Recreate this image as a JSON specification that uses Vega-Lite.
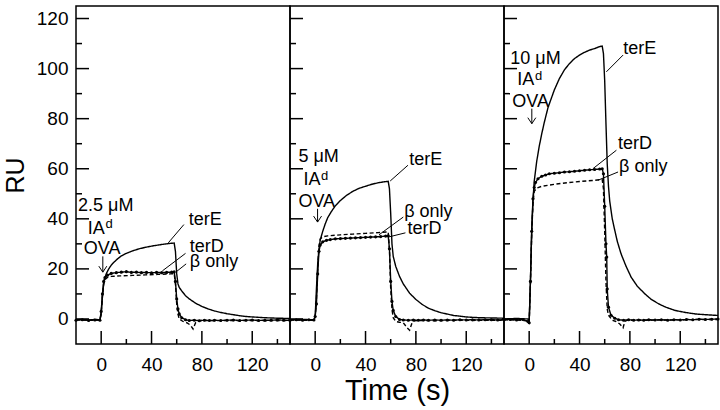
{
  "$schema": "https://vega.github.io/schema/vega-lite/v6.json",
  "autosize": {"type": "pad"},
  "padding": {"left": 2, "top": 5, "right": 2, "bottom": 0},
  "background": "white",
  "config": {
    "view": {"stroke": "black", "strokeWidth": 1.5},
    "font": "Liberation Sans",
    "axis": {"domain": false, "ticks": false, "labelColor": "black", "labelFont": "Liberation Sans", "labelFontSize": 19, "titleFont": "Liberation Sans", "titleFontWeight": "normal", "titleColor": "black", "grid": false, "labelFlush": false, "labelOverlap": false}
  },
  "datasets": {
    "xmaj": [{"v": 0}, {"v": 40}, {"v": 80}, {"v": 120}],
    "xmin": [{"v": 20}, {"v": 60}, {"v": 100}, {"v": 140}],
    "ymaj": [{"v": 0}, {"v": 20}, {"v": 40}, {"v": 60}, {"v": 80}, {"v": 100}, {"v": 120}],
    "ymin": [{"v": 10}, {"v": 30}, {"v": 50}, {"v": 70}, {"v": 90}, {"v": 110}],
    "curves": [
      {"p":"a","s":"terE","t":-20,"ru":-0.3},{"p":"a","s":"terE","t":-15,"ru":-0.2},{"p":"a","s":"terE","t":-10,"ru":-0.4},{"p":"a","s":"terE","t":-5,"ru":-0.2},{"p":"a","s":"terE","t":-1,"ru":-0.3},{"p":"a","s":"terE","t":0,"ru":2},{"p":"a","s":"terE","t":1,"ru":9},{"p":"a","s":"terE","t":2,"ru":14},{"p":"a","s":"terE","t":3,"ru":16.5},{"p":"a","s":"terE","t":4,"ru":18},{"p":"a","s":"terE","t":6,"ru":20},{"p":"a","s":"terE","t":8,"ru":21.5},{"p":"a","s":"terE","t":10,"ru":22.6},{"p":"a","s":"terE","t":13,"ru":24},{"p":"a","s":"terE","t":16,"ru":25.2},{"p":"a","s":"terE","t":20,"ru":26.2},{"p":"a","s":"terE","t":25,"ru":27.2},{"p":"a","s":"terE","t":30,"ru":28},{"p":"a","s":"terE","t":35,"ru":28.6},{"p":"a","s":"terE","t":40,"ru":29.1},{"p":"a","s":"terE","t":45,"ru":29.5},{"p":"a","s":"terE","t":50,"ru":29.9},{"p":"a","s":"terE","t":55,"ru":30.2},{"p":"a","s":"terE","t":58,"ru":30.3},{"p":"a","s":"terE","t":59,"ru":27},{"p":"a","s":"terE","t":60,"ru":18},{"p":"a","s":"terE","t":61,"ru":14},{"p":"a","s":"terE","t":62,"ru":12.6},{"p":"a","s":"terE","t":64,"ru":11.2},{"p":"a","s":"terE","t":67,"ru":9.3},{"p":"a","s":"terE","t":70,"ru":8},{"p":"a","s":"terE","t":75,"ru":6.3},{"p":"a","s":"terE","t":80,"ru":5},{"p":"a","s":"terE","t":85,"ru":4},{"p":"a","s":"terE","t":90,"ru":3.2},{"p":"a","s":"terE","t":95,"ru":2.6},{"p":"a","s":"terE","t":100,"ru":2.1},{"p":"a","s":"terE","t":105,"ru":1.7},{"p":"a","s":"terE","t":110,"ru":1.3},{"p":"a","s":"terE","t":115,"ru":1},{"p":"a","s":"terE","t":120,"ru":0.8},{"p":"a","s":"terE","t":130,"ru":0.5},{"p":"a","s":"terE","t":140,"ru":0.3},{"p":"a","s":"terE","t":150,"ru":0.2},
      {"p":"a","s":"terD","t":-20,"ru":-0.5},{"p":"a","s":"terD","t":-15,"ru":-0.3},{"p":"a","s":"terD","t":-10,"ru":-0.6},{"p":"a","s":"terD","t":-5,"ru":-0.4},{"p":"a","s":"terD","t":-1,"ru":-0.5},{"p":"a","s":"terD","t":0,"ru":3},{"p":"a","s":"terD","t":1,"ru":10},{"p":"a","s":"terD","t":2,"ru":15},{"p":"a","s":"terD","t":3,"ru":16.5},{"p":"a","s":"terD","t":5,"ru":17.5},{"p":"a","s":"terD","t":8,"ru":18.2},{"p":"a","s":"terD","t":12,"ru":18.5},{"p":"a","s":"terD","t":16,"ru":18.7},{"p":"a","s":"terD","t":20,"ru":18.9},{"p":"a","s":"terD","t":24,"ru":18.6},{"p":"a","s":"terD","t":28,"ru":18.7},{"p":"a","s":"terD","t":32,"ru":18.5},{"p":"a","s":"terD","t":36,"ru":18.6},{"p":"a","s":"terD","t":40,"ru":18.4},{"p":"a","s":"terD","t":44,"ru":18.6},{"p":"a","s":"terD","t":48,"ru":18.5},{"p":"a","s":"terD","t":52,"ru":18.6},{"p":"a","s":"terD","t":56,"ru":18.7},{"p":"a","s":"terD","t":58,"ru":18.8},{"p":"a","s":"terD","t":59,"ru":15},{"p":"a","s":"terD","t":60,"ru":8},{"p":"a","s":"terD","t":61,"ru":4},{"p":"a","s":"terD","t":62,"ru":2},{"p":"a","s":"terD","t":64,"ru":0.5},{"p":"a","s":"terD","t":67,"ru":-0.3},{"p":"a","s":"terD","t":70,"ru":-0.6},{"p":"a","s":"terD","t":74,"ru":-0.5},{"p":"a","s":"terD","t":78,"ru":-0.7},{"p":"a","s":"terD","t":82,"ru":-0.5},{"p":"a","s":"terD","t":86,"ru":-0.6},{"p":"a","s":"terD","t":90,"ru":-0.5},{"p":"a","s":"terD","t":95,"ru":-0.6},{"p":"a","s":"terD","t":100,"ru":-0.5},{"p":"a","s":"terD","t":105,"ru":-0.4},{"p":"a","s":"terD","t":110,"ru":-0.6},{"p":"a","s":"terD","t":115,"ru":-0.5},{"p":"a","s":"terD","t":120,"ru":-0.4},{"p":"a","s":"terD","t":125,"ru":-0.6},{"p":"a","s":"terD","t":130,"ru":-0.5},{"p":"a","s":"terD","t":135,"ru":-0.5},{"p":"a","s":"terD","t":140,"ru":-0.4},{"p":"a","s":"terD","t":145,"ru":-0.5},{"p":"a","s":"terD","t":150,"ru":-0.5},
      {"p":"a","s":"β only","t":-20,"ru":-0.3},{"p":"a","s":"β only","t":-10,"ru":-0.5},{"p":"a","s":"β only","t":-1,"ru":-0.4},{"p":"a","s":"β only","t":0,"ru":2},{"p":"a","s":"β only","t":1,"ru":9},{"p":"a","s":"β only","t":2,"ru":14},{"p":"a","s":"β only","t":3,"ru":15.8},{"p":"a","s":"β only","t":5,"ru":16.6},{"p":"a","s":"β only","t":8,"ru":17},{"p":"a","s":"β only","t":15,"ru":17.2},{"p":"a","s":"β only","t":25,"ru":17.4},{"p":"a","s":"β only","t":35,"ru":17.6},{"p":"a","s":"β only","t":45,"ru":17.8},{"p":"a","s":"β only","t":55,"ru":18},{"p":"a","s":"β only","t":58,"ru":18.1},{"p":"a","s":"β only","t":59,"ru":14},{"p":"a","s":"β only","t":60,"ru":6},{"p":"a","s":"β only","t":61,"ru":2},{"p":"a","s":"β only","t":62,"ru":0},{"p":"a","s":"β only","t":65,"ru":-1},{"p":"a","s":"β only","t":68,"ru":-1.5},{"p":"a","s":"β only","t":71,"ru":-2.5},{"p":"a","s":"β only","t":73,"ru":-4},{"p":"a","s":"β only","t":75,"ru":-1.5},{"p":"a","s":"β only","t":77,"ru":-0.6},{"p":"a","s":"β only","t":80,"ru":-0.6},{"p":"a","s":"β only","t":90,"ru":-0.7},{"p":"a","s":"β only","t":100,"ru":-0.6},{"p":"a","s":"β only","t":110,"ru":-0.7},{"p":"a","s":"β only","t":120,"ru":-0.6},{"p":"a","s":"β only","t":130,"ru":-0.7},{"p":"a","s":"β only","t":140,"ru":-0.6},{"p":"a","s":"β only","t":150,"ru":-0.6},

      {"p":"b","s":"terE","t":-20,"ru":-0.3},{"p":"b","s":"terE","t":-10,"ru":-0.2},{"p":"b","s":"terE","t":-1,"ru":-0.3},{"p":"b","s":"terE","t":0,"ru":1},{"p":"b","s":"terE","t":1,"ru":12},{"p":"b","s":"terE","t":2,"ru":22},{"p":"b","s":"terE","t":3,"ru":28},{"p":"b","s":"terE","t":4,"ru":31.5},{"p":"b","s":"terE","t":6,"ru":35},{"p":"b","s":"terE","t":8,"ru":38},{"p":"b","s":"terE","t":10,"ru":40.5},{"p":"b","s":"terE","t":13,"ru":43},{"p":"b","s":"terE","t":16,"ru":45.2},{"p":"b","s":"terE","t":20,"ru":47.3},{"p":"b","s":"terE","t":25,"ru":49.4},{"p":"b","s":"terE","t":30,"ru":51},{"p":"b","s":"terE","t":35,"ru":52.2},{"p":"b","s":"terE","t":40,"ru":53},{"p":"b","s":"terE","t":45,"ru":53.8},{"p":"b","s":"terE","t":50,"ru":54.4},{"p":"b","s":"terE","t":55,"ru":54.8},{"p":"b","s":"terE","t":58,"ru":55},{"p":"b","s":"terE","t":59,"ru":52},{"p":"b","s":"terE","t":60,"ru":42},{"p":"b","s":"terE","t":61,"ru":30},{"p":"b","s":"terE","t":62,"ru":25},{"p":"b","s":"terE","t":64,"ru":21},{"p":"b","s":"terE","t":67,"ru":17},{"p":"b","s":"terE","t":70,"ru":14},{"p":"b","s":"terE","t":75,"ru":10.3},{"p":"b","s":"terE","t":80,"ru":7.8},{"p":"b","s":"terE","t":85,"ru":5.8},{"p":"b","s":"terE","t":90,"ru":4.3},{"p":"b","s":"terE","t":95,"ru":3.3},{"p":"b","s":"terE","t":100,"ru":2.5},{"p":"b","s":"terE","t":110,"ru":1.4},{"p":"b","s":"terE","t":120,"ru":0.8},{"p":"b","s":"terE","t":130,"ru":0.5},{"p":"b","s":"terE","t":140,"ru":0.4},{"p":"b","s":"terE","t":150,"ru":0.3},
      {"p":"b","s":"terD","t":-20,"ru":-0.4},{"p":"b","s":"terD","t":-15,"ru":-0.3},{"p":"b","s":"terD","t":-10,"ru":-0.5},{"p":"b","s":"terD","t":-5,"ru":-0.3},{"p":"b","s":"terD","t":-1,"ru":-0.4},{"p":"b","s":"terD","t":0,"ru":1},{"p":"b","s":"terD","t":1,"ru":6},{"p":"b","s":"terD","t":2,"ru":18},{"p":"b","s":"terD","t":3,"ru":27},{"p":"b","s":"terD","t":4,"ru":29.5},{"p":"b","s":"terD","t":6,"ru":30.8},{"p":"b","s":"terD","t":9,"ru":31.4},{"p":"b","s":"terD","t":12,"ru":31.7},{"p":"b","s":"terD","t":16,"ru":32},{"p":"b","s":"terD","t":20,"ru":32.1},{"p":"b","s":"terD","t":24,"ru":32.2},{"p":"b","s":"terD","t":28,"ru":32.3},{"p":"b","s":"terD","t":32,"ru":32.4},{"p":"b","s":"terD","t":36,"ru":32.5},{"p":"b","s":"terD","t":40,"ru":32.6},{"p":"b","s":"terD","t":44,"ru":32.7},{"p":"b","s":"terD","t":48,"ru":32.8},{"p":"b","s":"terD","t":52,"ru":32.9},{"p":"b","s":"terD","t":56,"ru":33.1},{"p":"b","s":"terD","t":58,"ru":33.2},{"p":"b","s":"terD","t":59,"ru":28},{"p":"b","s":"terD","t":60,"ru":15},{"p":"b","s":"terD","t":61,"ru":7},{"p":"b","s":"terD","t":62,"ru":3.4},{"p":"b","s":"terD","t":64,"ru":1},{"p":"b","s":"terD","t":67,"ru":-0.2},{"p":"b","s":"terD","t":70,"ru":-0.4},{"p":"b","s":"terD","t":74,"ru":-0.5},{"p":"b","s":"terD","t":78,"ru":-0.4},{"p":"b","s":"terD","t":82,"ru":-0.5},{"p":"b","s":"terD","t":86,"ru":-0.4},{"p":"b","s":"terD","t":90,"ru":-0.5},{"p":"b","s":"terD","t":95,"ru":-0.4},{"p":"b","s":"terD","t":100,"ru":-0.5},{"p":"b","s":"terD","t":105,"ru":-0.4},{"p":"b","s":"terD","t":110,"ru":-0.5},{"p":"b","s":"terD","t":115,"ru":-0.3},{"p":"b","s":"terD","t":120,"ru":-0.4},{"p":"b","s":"terD","t":125,"ru":-0.3},{"p":"b","s":"terD","t":130,"ru":-0.4},{"p":"b","s":"terD","t":135,"ru":-0.3},{"p":"b","s":"terD","t":140,"ru":-0.3},{"p":"b","s":"terD","t":145,"ru":-0.4},{"p":"b","s":"terD","t":150,"ru":-0.3},
      {"p":"b","s":"β only","t":-20,"ru":-0.4},{"p":"b","s":"β only","t":-10,"ru":-0.5},{"p":"b","s":"β only","t":-1,"ru":-0.5},{"p":"b","s":"β only","t":0,"ru":1},{"p":"b","s":"β only","t":1,"ru":8},{"p":"b","s":"β only","t":2,"ru":20},{"p":"b","s":"β only","t":3,"ru":29},{"p":"b","s":"β only","t":4,"ru":32},{"p":"b","s":"β only","t":6,"ru":32.8},{"p":"b","s":"β only","t":10,"ru":33.2},{"p":"b","s":"β only","t":20,"ru":33.6},{"p":"b","s":"β only","t":30,"ru":33.9},{"p":"b","s":"β only","t":40,"ru":34.2},{"p":"b","s":"β only","t":50,"ru":34.5},{"p":"b","s":"β only","t":58,"ru":34.8},{"p":"b","s":"β only","t":59,"ru":28},{"p":"b","s":"β only","t":60,"ru":12},{"p":"b","s":"β only","t":61,"ru":4},{"p":"b","s":"β only","t":62,"ru":0.5},{"p":"b","s":"β only","t":64,"ru":-1},{"p":"b","s":"β only","t":67,"ru":-1.3},{"p":"b","s":"β only","t":70,"ru":-1.5},{"p":"b","s":"β only","t":73,"ru":-3.5},{"p":"b","s":"β only","t":75,"ru":-4.5},{"p":"b","s":"β only","t":77,"ru":-1.5},{"p":"b","s":"β only","t":79,"ru":-0.7},{"p":"b","s":"β only","t":85,"ru":-0.6},{"p":"b","s":"β only","t":95,"ru":-0.7},{"p":"b","s":"β only","t":105,"ru":-0.6},{"p":"b","s":"β only","t":115,"ru":-0.5},{"p":"b","s":"β only","t":125,"ru":-0.6},{"p":"b","s":"β only","t":135,"ru":-0.5},{"p":"b","s":"β only","t":150,"ru":-0.5},

      {"p":"c","s":"terE","t":-20,"ru":0},{"p":"c","s":"terE","t":-10,"ru":0.2},{"p":"c","s":"terE","t":-1,"ru":0},{"p":"c","s":"terE","t":0,"ru":-1},{"p":"c","s":"terE","t":1,"ru":15},{"p":"c","s":"terE","t":2,"ru":35},{"p":"c","s":"terE","t":3,"ru":47},{"p":"c","s":"terE","t":4,"ru":55},{"p":"c","s":"terE","t":6,"ru":63},{"p":"c","s":"terE","t":8,"ru":69},{"p":"c","s":"terE","t":10,"ru":74},{"p":"c","s":"terE","t":12,"ru":78.5},{"p":"c","s":"terE","t":15,"ru":84.5},{"p":"c","s":"terE","t":20,"ru":91.5},{"p":"c","s":"terE","t":24,"ru":96},{"p":"c","s":"terE","t":28,"ru":99.5},{"p":"c","s":"terE","t":32,"ru":102},{"p":"c","s":"terE","t":36,"ru":104},{"p":"c","s":"terE","t":40,"ru":105.4},{"p":"c","s":"terE","t":44,"ru":106.5},{"p":"c","s":"terE","t":48,"ru":107.4},{"p":"c","s":"terE","t":52,"ru":108},{"p":"c","s":"terE","t":56,"ru":108.8},{"p":"c","s":"terE","t":58,"ru":109},{"p":"c","s":"terE","t":59,"ru":106},{"p":"c","s":"terE","t":60,"ru":95},{"p":"c","s":"terE","t":61,"ru":78},{"p":"c","s":"terE","t":62,"ru":62},{"p":"c","s":"terE","t":63,"ru":53},{"p":"c","s":"terE","t":64,"ru":47},{"p":"c","s":"terE","t":66,"ru":40},{"p":"c","s":"terE","t":68,"ru":35.4},{"p":"c","s":"terE","t":70,"ru":31},{"p":"c","s":"terE","t":73,"ru":26},{"p":"c","s":"terE","t":77,"ru":21},{"p":"c","s":"terE","t":81,"ru":16.7},{"p":"c","s":"terE","t":86,"ru":13},{"p":"c","s":"terE","t":92,"ru":10},{"p":"c","s":"terE","t":97,"ru":7.8},{"p":"c","s":"terE","t":103,"ru":6},{"p":"c","s":"terE","t":109,"ru":4.6},{"p":"c","s":"terE","t":116,"ru":3.4},{"p":"c","s":"terE","t":124,"ru":2.6},{"p":"c","s":"terE","t":132,"ru":2},{"p":"c","s":"terE","t":140,"ru":1.7},{"p":"c","s":"terE","t":150,"ru":1.4},
      {"p":"c","s":"terD","t":-20,"ru":-0.3},{"p":"c","s":"terD","t":-15,"ru":-0.2},{"p":"c","s":"terD","t":-10,"ru":-0.4},{"p":"c","s":"terD","t":-5,"ru":-0.2},{"p":"c","s":"terD","t":-1,"ru":-1},{"p":"c","s":"terD","t":0,"ru":-1.5},{"p":"c","s":"terD","t":1,"ru":15},{"p":"c","s":"terD","t":2,"ru":35},{"p":"c","s":"terD","t":3,"ru":48},{"p":"c","s":"terD","t":4,"ru":52.5},{"p":"c","s":"terD","t":5,"ru":54.5},{"p":"c","s":"terD","t":7,"ru":56},{"p":"c","s":"terD","t":10,"ru":57},{"p":"c","s":"terD","t":13,"ru":57.5},{"p":"c","s":"terD","t":16,"ru":58},{"p":"c","s":"terD","t":20,"ru":58.2},{"p":"c","s":"terD","t":24,"ru":58.4},{"p":"c","s":"terD","t":28,"ru":58.7},{"p":"c","s":"terD","t":32,"ru":58.8},{"p":"c","s":"terD","t":36,"ru":59},{"p":"c","s":"terD","t":40,"ru":59.2},{"p":"c","s":"terD","t":44,"ru":59.4},{"p":"c","s":"terD","t":48,"ru":59.6},{"p":"c","s":"terD","t":52,"ru":59.7},{"p":"c","s":"terD","t":56,"ru":59.9},{"p":"c","s":"terD","t":58,"ru":60},{"p":"c","s":"terD","t":59,"ru":58},{"p":"c","s":"terD","t":60,"ru":45},{"p":"c","s":"terD","t":61,"ru":30},{"p":"c","s":"terD","t":61.6,"ru":24.7},{"p":"c","s":"terD","t":62,"ru":12},{"p":"c","s":"terD","t":63,"ru":4.7},{"p":"c","s":"terD","t":65,"ru":1.5},{"p":"c","s":"terD","t":68,"ru":0.3},{"p":"c","s":"terD","t":71,"ru":-0.3},{"p":"c","s":"terD","t":75,"ru":-0.5},{"p":"c","s":"terD","t":79,"ru":-0.3},{"p":"c","s":"terD","t":83,"ru":-0.5},{"p":"c","s":"terD","t":87,"ru":-0.4},{"p":"c","s":"terD","t":91,"ru":-0.5},{"p":"c","s":"terD","t":95,"ru":-0.3},{"p":"c","s":"terD","t":100,"ru":-0.4},{"p":"c","s":"terD","t":105,"ru":-0.3},{"p":"c","s":"terD","t":110,"ru":-0.5},{"p":"c","s":"terD","t":115,"ru":-0.3},{"p":"c","s":"terD","t":120,"ru":-0.4},{"p":"c","s":"terD","t":125,"ru":-0.2},{"p":"c","s":"terD","t":130,"ru":-0.3},{"p":"c","s":"terD","t":135,"ru":-0.1},{"p":"c","s":"terD","t":140,"ru":-0.2},{"p":"c","s":"terD","t":145,"ru":-0.1},{"p":"c","s":"terD","t":150,"ru":0},
      {"p":"c","s":"β only","t":-20,"ru":-0.3},{"p":"c","s":"β only","t":-10,"ru":-0.4},{"p":"c","s":"β only","t":-1,"ru":-0.8},{"p":"c","s":"β only","t":0,"ru":-1.5},{"p":"c","s":"β only","t":1,"ru":14},{"p":"c","s":"β only","t":2,"ru":34},{"p":"c","s":"β only","t":3,"ru":46},{"p":"c","s":"β only","t":4,"ru":51},{"p":"c","s":"β only","t":6,"ru":52.3},{"p":"c","s":"β only","t":10,"ru":53},{"p":"c","s":"β only","t":20,"ru":53.8},{"p":"c","s":"β only","t":30,"ru":54.4},{"p":"c","s":"β only","t":40,"ru":54.9},{"p":"c","s":"β only","t":50,"ru":55.3},{"p":"c","s":"β only","t":58,"ru":55.7},{"p":"c","s":"β only","t":59,"ru":52},{"p":"c","s":"β only","t":60,"ru":35},{"p":"c","s":"β only","t":61,"ru":15},{"p":"c","s":"β only","t":62,"ru":4},{"p":"c","s":"β only","t":63,"ru":1.5},{"p":"c","s":"β only","t":66,"ru":-0.5},{"p":"c","s":"β only","t":69,"ru":-1},{"p":"c","s":"β only","t":72,"ru":-2},{"p":"c","s":"β only","t":74.6,"ru":-3.5},{"p":"c","s":"β only","t":76,"ru":-1},{"p":"c","s":"β only","t":78,"ru":-0.5},{"p":"c","s":"β only","t":85,"ru":-0.5},{"p":"c","s":"β only","t":95,"ru":-0.5},{"p":"c","s":"β only","t":105,"ru":-0.4},{"p":"c","s":"β only","t":115,"ru":-0.4},{"p":"c","s":"β only","t":125,"ru":-0.3},{"p":"c","s":"β only","t":135,"ru":-0.2},{"p":"c","s":"β only","t":150,"ru":-0.2}
    ],
    "notes": [
      {"p":"a","label":"2.5 μM","t":-18.4,"ru":43},{"p":"a","label":"IA","t":-10.6,"ru":34},{"p":"a","label":"OVA","t":-13.8,"ru":26},{"p":"a","label":"terE","t":69.6,"ru":37.4},{"p":"a","label":"terD","t":70.4,"ru":26.7},{"p":"a","label":"β only","t":70.4,"ru":20.7},
      {"p":"b","label":"5 μM","t":-13.3,"ru":62.7},{"p":"b","label":"IA","t":-9.3,"ru":53.4},{"p":"b","label":"OVA","t":-13.3,"ru":44.7},{"p":"b","label":"terE","t":74.7,"ru":61.4},{"p":"b","label":"β only","t":70.7,"ru":40.6},{"p":"b","label":"terD","t":73.4,"ru":34.1},
      {"p":"c","label":"10 μM","t":-15,"ru":102},{"p":"c","label":"IA","t":-9.4,"ru":93.4},{"p":"c","label":"OVA","t":-13.4,"ru":84.7},{"p":"c","label":"terE","t":74.7,"ru":106},{"p":"c","label":"terD","t":70.6,"ru":68},{"p":"c","label":"β only","t":71.4,"ru":58.6}
    ],
    "sups": [
      {"p":"a","label":"d","t":3.4,"ru":36.2},{"p":"b","label":"d","t":4.7,"ru":55.6},{"p":"c","label":"d","t":4.6,"ru":95.6}
    ],
    "leaders": [
      {"p":"a","t":65.7,"ru":37.7,"t2":53.3,"ru2":30.4},{"p":"a","t":67,"ru":26.2,"t2":48.6,"ru2":19.2},{"p":"a","t":67.5,"ru":22,"t2":60,"ru2":19},
      {"p":"b","t":73.7,"ru":61.4,"t2":59.6,"ru2":55.1},{"p":"b","t":70,"ru":40.7,"t2":50.7,"ru2":33.6},{"p":"b","t":71.7,"ru":34.4,"t2":58,"ru2":32.7},
      {"p":"c","t":74.6,"ru":105.4,"t2":61.3,"ru2":98.7},{"p":"c","t":69.3,"ru":67.4,"t2":50.6,"ru2":60},{"p":"c","t":70.6,"ru":58.7,"t2":54.6,"ru2":55.4}
    ],
    "arrows": [
      {"p":"a","t":1.3,"ru":25,"t2":1.3,"ru2":18.7},{"p":"b","t":1.9,"ru":44,"t2":1.9,"ru2":38.7},{"p":"c","t":2.1,"ru":84,"t2":2.1,"ru2":78}
    ]
  },
  "hconcat": [
    {
      "width": 214, "height": 338,
      "layer": [
        {"data": {"name": "curves"}, "transform": [{"filter": "datum.p === 'a'"}],
         "mark": {"type": "line", "color": "black", "strokeWidth": 1.4, "clip": true},
         "encoding": {
           "x": {"field": "t", "type": "quantitative", "scale": {"domain": [-20, 150], "nice": false, "zero": false},
                 "axis": {"orient": "bottom", "title": null, "values": [0, 40, 80, 120], "labelPadding": 11}},
           "y": {"field": "ru", "type": "quantitative", "scale": {"domain": [-10, 125], "nice": false, "zero": false},
                 "axis": {"orient": "left", "title": "RU", "titleFontSize": 25, "titlePadding": 8, "values": [0, 20, 40, 60, 80, 100, 120], "labelPadding": 8}},
           "strokeDash": {"field": "s", "type": "nominal", "scale": {"domain": ["terE", "terD", "β only"], "range": [[1, 0], [1, 0], [4, 2.5]]}, "legend": null},
           "order": {"field": "t", "type": "quantitative"}
         }},
        {"data": {"name": "curves"}, "transform": [{"filter": "datum.p === 'a' && datum.s === 'terD'"}],
         "mark": {"type": "point", "filled": true, "color": "black", "size": 10, "opacity": 1},
         "encoding": {"x": {"field": "t", "type": "quantitative"}, "y": {"field": "ru", "type": "quantitative"}}},
        {"data": {"name": "xmaj"}, "mark": {"type": "rule", "color": "black", "strokeWidth": 1.5, "yOffset": -13, "y2Offset": 0},
         "encoding": {"x": {"field": "v", "type": "quantitative"}, "y": {"datum": -10, "type": "quantitative"}, "y2": {"datum": -10}}},
        {"data": {"name": "xmin"}, "mark": {"type": "rule", "color": "black", "strokeWidth": 1.5, "yOffset": -5, "y2Offset": 0},
         "encoding": {"x": {"field": "v", "type": "quantitative"}, "y": {"datum": -10, "type": "quantitative"}, "y2": {"datum": -10}}},
        {"data": {"name": "ymaj"}, "mark": {"type": "rule", "color": "black", "strokeWidth": 1.5, "xOffset": 13, "x2Offset": 0},
         "encoding": {"y": {"field": "v", "type": "quantitative"}, "x": {"datum": -20, "type": "quantitative"}, "x2": {"datum": -20}}},
        {"data": {"name": "ymin"}, "mark": {"type": "rule", "color": "black", "strokeWidth": 1.5, "xOffset": 6, "x2Offset": 0},
         "encoding": {"y": {"field": "v", "type": "quantitative"}, "x": {"datum": -20, "type": "quantitative"}, "x2": {"datum": -20}}},
        {"data": {"name": "leaders"}, "transform": [{"filter": "datum.p === 'a'"}],
         "mark": {"type": "rule", "color": "black", "strokeWidth": 1},
         "encoding": {"x": {"field": "t", "type": "quantitative"}, "y": {"field": "ru", "type": "quantitative"}, "x2": {"field": "t2"}, "y2": {"field": "ru2"}}},
        {"data": {"name": "arrows"}, "transform": [{"filter": "datum.p === 'a'"}],
         "mark": {"type": "rule", "color": "black", "strokeWidth": 1},
         "encoding": {"x": {"field": "t", "type": "quantitative"}, "y": {"field": "ru", "type": "quantitative"}, "x2": {"field": "t2"}, "y2": {"field": "ru2"}}},
        {"data": {"name": "arrows"}, "transform": [{"filter": "datum.p === 'a'"}],
         "mark": {"type": "point", "shape": "M-1,-1.5L0,0L1,-1.5", "filled": false, "stroke": "black", "strokeWidth": 1, "size": 64, "opacity": 1},
         "encoding": {"x": {"field": "t2", "type": "quantitative"}, "y": {"field": "ru2", "type": "quantitative"}}},
        {"data": {"name": "notes"}, "transform": [{"filter": "datum.p === 'a'"}],
         "mark": {"type": "text", "align": "left", "baseline": "alphabetic", "fontSize": 18, "font": "Liberation Sans", "color": "black"},
         "encoding": {"x": {"field": "t", "type": "quantitative"}, "y": {"field": "ru", "type": "quantitative"}, "text": {"field": "label"}}},
        {"data": {"name": "sups"}, "transform": [{"filter": "datum.p === 'a'"}],
         "mark": {"type": "text", "align": "left", "baseline": "alphabetic", "fontSize": 13, "font": "Liberation Sans", "color": "black"},
         "encoding": {"x": {"field": "t", "type": "quantitative"}, "y": {"field": "ru", "type": "quantitative"}, "text": {"field": "label"}}}
      ]
    },
    {
      "width": 214, "height": 338,
      "layer": [
        {"data": {"name": "curves"}, "transform": [{"filter": "datum.p === 'b'"}],
         "mark": {"type": "line", "color": "black", "strokeWidth": 1.4, "clip": true},
         "encoding": {
           "x": {"field": "t", "type": "quantitative", "scale": {"domain": [-20, 150], "nice": false, "zero": false},
                 "axis": {"orient": "bottom", "title": "Time (s)", "titleFontSize": 29, "titlePadding": 2, "values": [0, 40, 80, 120], "labelPadding": 11}},
           "y": {"field": "ru", "type": "quantitative", "scale": {"domain": [-10, 125], "nice": false, "zero": false}, "axis": null},
           "strokeDash": {"field": "s", "type": "nominal", "scale": {"domain": ["terE", "terD", "β only"], "range": [[1, 0], [1, 0], [4, 2.5]]}, "legend": null},
           "order": {"field": "t", "type": "quantitative"}
         }},
        {"data": {"name": "curves"}, "transform": [{"filter": "datum.p === 'b' && datum.s === 'terD'"}],
         "mark": {"type": "point", "filled": true, "color": "black", "size": 10, "opacity": 1},
         "encoding": {"x": {"field": "t", "type": "quantitative"}, "y": {"field": "ru", "type": "quantitative"}}},
        {"data": {"name": "xmaj"}, "mark": {"type": "rule", "color": "black", "strokeWidth": 1.5, "yOffset": -13, "y2Offset": 0},
         "encoding": {"x": {"field": "v", "type": "quantitative"}, "y": {"datum": -10, "type": "quantitative"}, "y2": {"datum": -10}}},
        {"data": {"name": "xmin"}, "mark": {"type": "rule", "color": "black", "strokeWidth": 1.5, "yOffset": -5, "y2Offset": 0},
         "encoding": {"x": {"field": "v", "type": "quantitative"}, "y": {"datum": -10, "type": "quantitative"}, "y2": {"datum": -10}}},
        {"data": {"name": "ymaj"}, "mark": {"type": "rule", "color": "black", "strokeWidth": 1.5, "xOffset": 13, "x2Offset": 0},
         "encoding": {"y": {"field": "v", "type": "quantitative"}, "x": {"datum": -20, "type": "quantitative"}, "x2": {"datum": -20}}},
        {"data": {"name": "ymin"}, "mark": {"type": "rule", "color": "black", "strokeWidth": 1.5, "xOffset": 6, "x2Offset": 0},
         "encoding": {"y": {"field": "v", "type": "quantitative"}, "x": {"datum": -20, "type": "quantitative"}, "x2": {"datum": -20}}},
        {"data": {"name": "leaders"}, "transform": [{"filter": "datum.p === 'b'"}],
         "mark": {"type": "rule", "color": "black", "strokeWidth": 1},
         "encoding": {"x": {"field": "t", "type": "quantitative"}, "y": {"field": "ru", "type": "quantitative"}, "x2": {"field": "t2"}, "y2": {"field": "ru2"}}},
        {"data": {"name": "arrows"}, "transform": [{"filter": "datum.p === 'b'"}],
         "mark": {"type": "rule", "color": "black", "strokeWidth": 1},
         "encoding": {"x": {"field": "t", "type": "quantitative"}, "y": {"field": "ru", "type": "quantitative"}, "x2": {"field": "t2"}, "y2": {"field": "ru2"}}},
        {"data": {"name": "arrows"}, "transform": [{"filter": "datum.p === 'b'"}],
         "mark": {"type": "point", "shape": "M-1,-1.5L0,0L1,-1.5", "filled": false, "stroke": "black", "strokeWidth": 1, "size": 64, "opacity": 1},
         "encoding": {"x": {"field": "t2", "type": "quantitative"}, "y": {"field": "ru2", "type": "quantitative"}}},
        {"data": {"name": "notes"}, "transform": [{"filter": "datum.p === 'b'"}],
         "mark": {"type": "text", "align": "left", "baseline": "alphabetic", "fontSize": 18, "font": "Liberation Sans", "color": "black"},
         "encoding": {"x": {"field": "t", "type": "quantitative"}, "y": {"field": "ru", "type": "quantitative"}, "text": {"field": "label"}}},
        {"data": {"name": "sups"}, "transform": [{"filter": "datum.p === 'b'"}],
         "mark": {"type": "text", "align": "left", "baseline": "alphabetic", "fontSize": 13, "font": "Liberation Sans", "color": "black"},
         "encoding": {"x": {"field": "t", "type": "quantitative"}, "y": {"field": "ru", "type": "quantitative"}, "text": {"field": "label"}}}
      ]
    },
    {
      "width": 214, "height": 338,
      "layer": [
        {"data": {"name": "curves"}, "transform": [{"filter": "datum.p === 'c'"}],
         "mark": {"type": "line", "color": "black", "strokeWidth": 1.4, "clip": true},
         "encoding": {
           "x": {"field": "t", "type": "quantitative", "scale": {"domain": [-20, 150], "nice": false, "zero": false},
                 "axis": {"orient": "bottom", "title": null, "values": [0, 40, 80, 120], "labelPadding": 11}},
           "y": {"field": "ru", "type": "quantitative", "scale": {"domain": [-10, 125], "nice": false, "zero": false}, "axis": null},
           "strokeDash": {"field": "s", "type": "nominal", "scale": {"domain": ["terE", "terD", "β only"], "range": [[1, 0], [1, 0], [4, 2.5]]}, "legend": null},
           "order": {"field": "t", "type": "quantitative"}
         }},
        {"data": {"name": "curves"}, "transform": [{"filter": "datum.p === 'c' && datum.s === 'terD'"}],
         "mark": {"type": "point", "filled": true, "color": "black", "size": 10, "opacity": 1},
         "encoding": {"x": {"field": "t", "type": "quantitative"}, "y": {"field": "ru", "type": "quantitative"}}},
        {"data": {"name": "xmaj"}, "mark": {"type": "rule", "color": "black", "strokeWidth": 1.5, "yOffset": -13, "y2Offset": 0},
         "encoding": {"x": {"field": "v", "type": "quantitative"}, "y": {"datum": -10, "type": "quantitative"}, "y2": {"datum": -10}}},
        {"data": {"name": "xmin"}, "mark": {"type": "rule", "color": "black", "strokeWidth": 1.5, "yOffset": -5, "y2Offset": 0},
         "encoding": {"x": {"field": "v", "type": "quantitative"}, "y": {"datum": -10, "type": "quantitative"}, "y2": {"datum": -10}}},
        {"data": {"name": "ymaj"}, "mark": {"type": "rule", "color": "black", "strokeWidth": 1.5, "xOffset": 13, "x2Offset": 0},
         "encoding": {"y": {"field": "v", "type": "quantitative"}, "x": {"datum": -20, "type": "quantitative"}, "x2": {"datum": -20}}},
        {"data": {"name": "ymin"}, "mark": {"type": "rule", "color": "black", "strokeWidth": 1.5, "xOffset": 6, "x2Offset": 0},
         "encoding": {"y": {"field": "v", "type": "quantitative"}, "x": {"datum": -20, "type": "quantitative"}, "x2": {"datum": -20}}},
        {"data": {"name": "leaders"}, "transform": [{"filter": "datum.p === 'c'"}],
         "mark": {"type": "rule", "color": "black", "strokeWidth": 1},
         "encoding": {"x": {"field": "t", "type": "quantitative"}, "y": {"field": "ru", "type": "quantitative"}, "x2": {"field": "t2"}, "y2": {"field": "ru2"}}},
        {"data": {"name": "arrows"}, "transform": [{"filter": "datum.p === 'c'"}],
         "mark": {"type": "rule", "color": "black", "strokeWidth": 1},
         "encoding": {"x": {"field": "t", "type": "quantitative"}, "y": {"field": "ru", "type": "quantitative"}, "x2": {"field": "t2"}, "y2": {"field": "ru2"}}},
        {"data": {"name": "arrows"}, "transform": [{"filter": "datum.p === 'c'"}],
         "mark": {"type": "point", "shape": "M-1,-1.5L0,0L1,-1.5", "filled": false, "stroke": "black", "strokeWidth": 1, "size": 64, "opacity": 1},
         "encoding": {"x": {"field": "t2", "type": "quantitative"}, "y": {"field": "ru2", "type": "quantitative"}}},
        {"data": {"name": "notes"}, "transform": [{"filter": "datum.p === 'c'"}],
         "mark": {"type": "text", "align": "left", "baseline": "alphabetic", "fontSize": 18, "font": "Liberation Sans", "color": "black"},
         "encoding": {"x": {"field": "t", "type": "quantitative"}, "y": {"field": "ru", "type": "quantitative"}, "text": {"field": "label"}}},
        {"data": {"name": "sups"}, "transform": [{"filter": "datum.p === 'c'"}],
         "mark": {"type": "text", "align": "left", "baseline": "alphabetic", "fontSize": 13, "font": "Liberation Sans", "color": "black"},
         "encoding": {"x": {"field": "t", "type": "quantitative"}, "y": {"field": "ru", "type": "quantitative"}, "text": {"field": "label"}}}
      ]
    }
  ],
  "spacing": 0,
  "bounds": "flush"
}
